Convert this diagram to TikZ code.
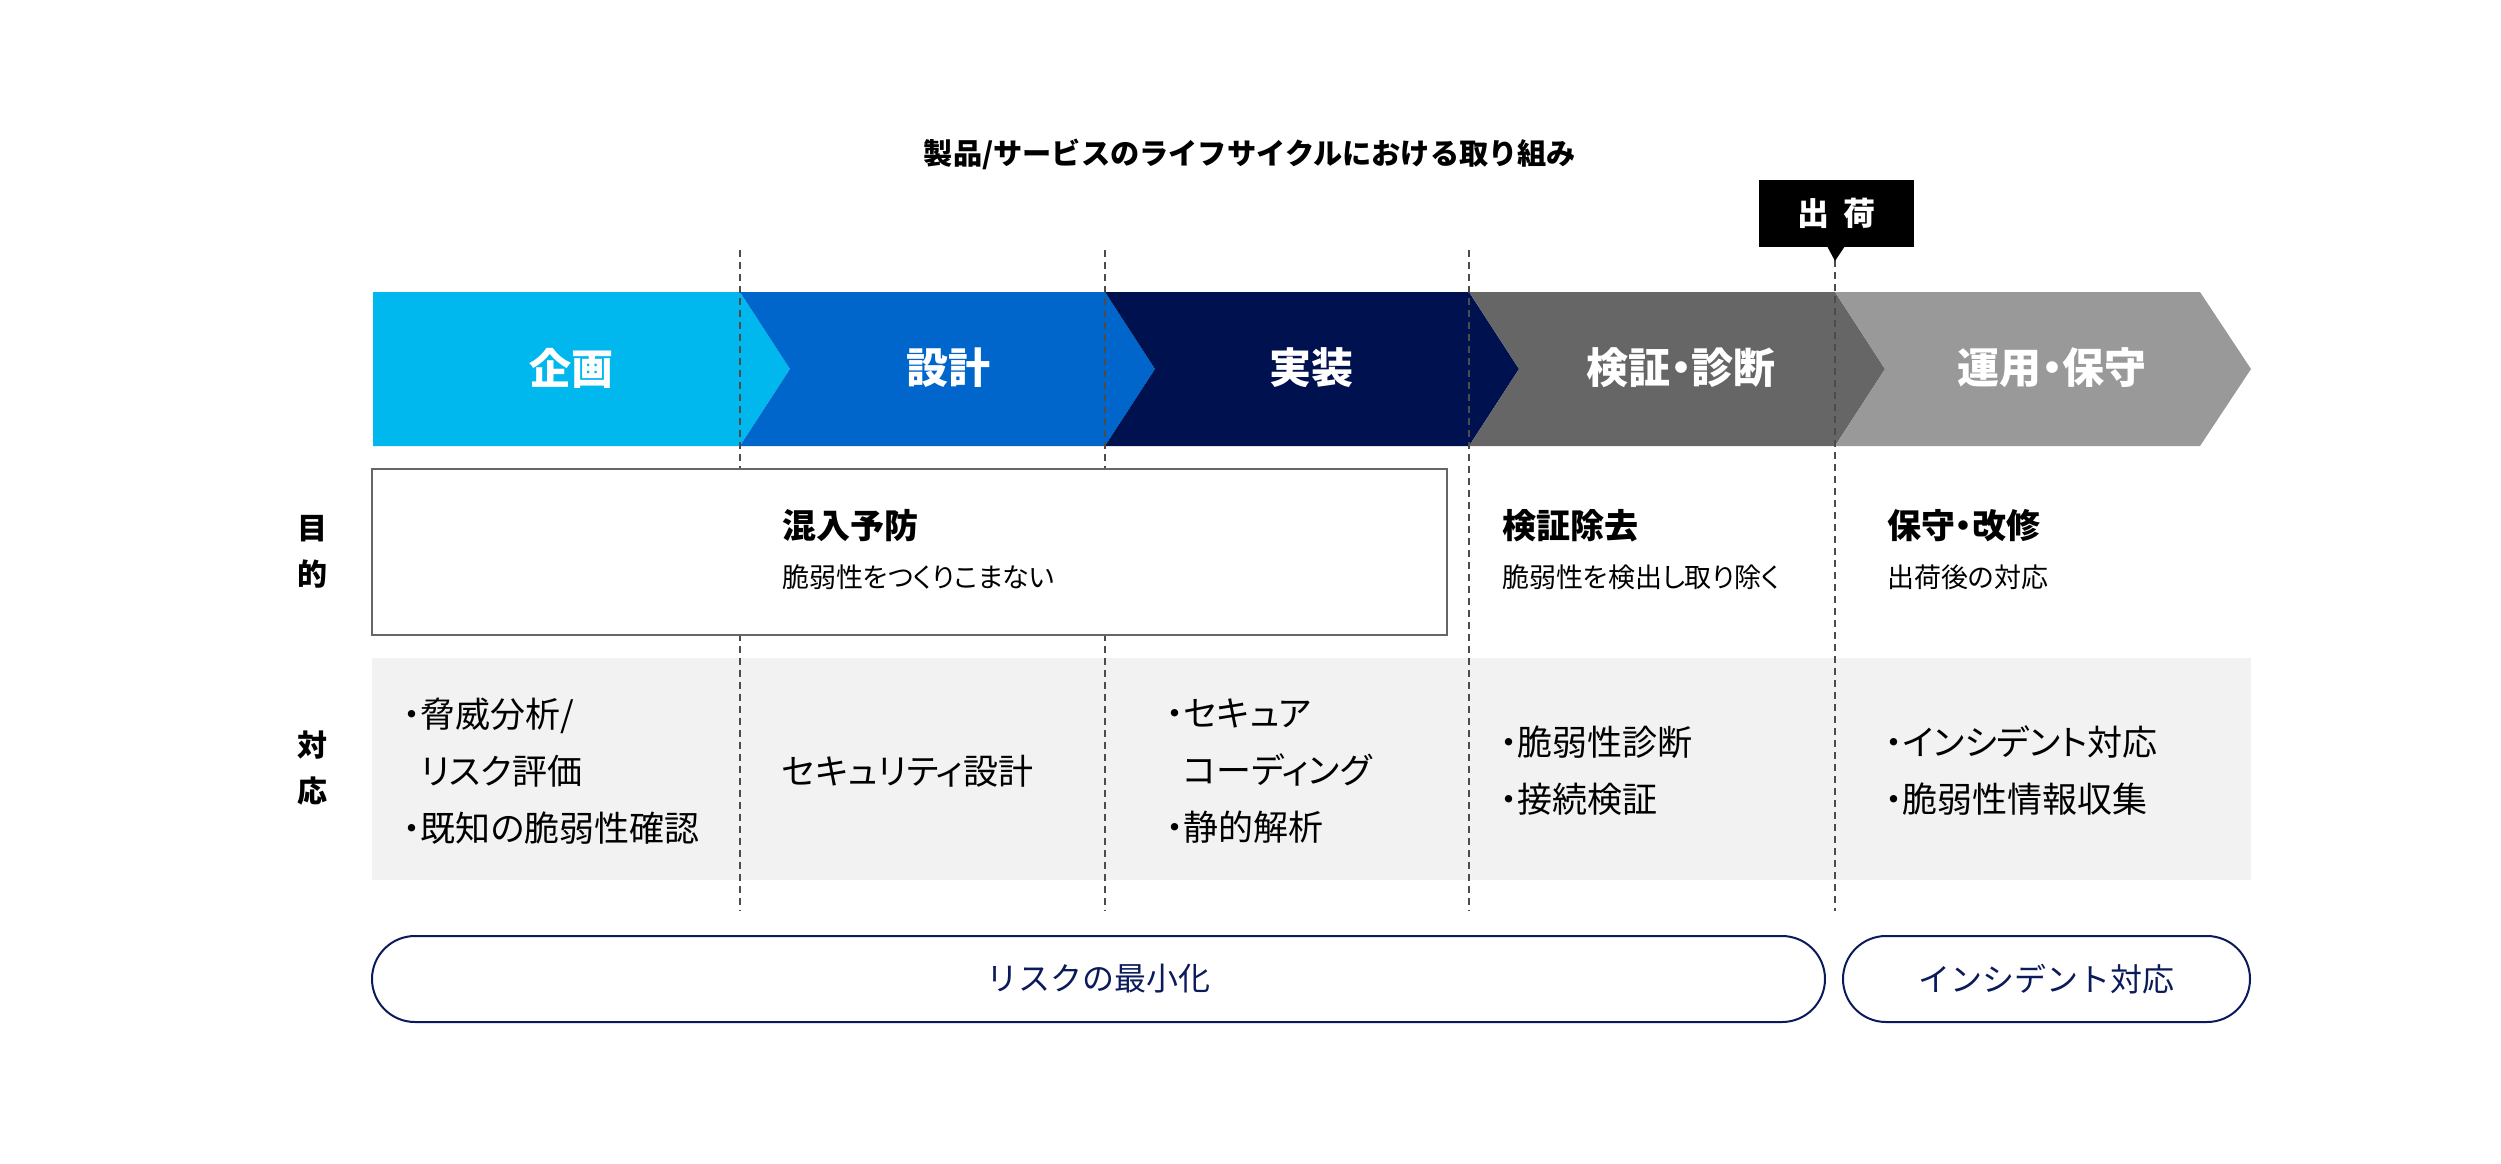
\documentclass[tikz,border=0pt]{standalone}
\usepackage{fontspec}
\setmainfont{Noto Sans CJK JP}[RawFeature=+palt]
\newfontfamily\fullwidthjp{Noto Sans CJK JP}
\usepackage{tikz}
\usetikzlibrary{positioning}

\definecolor{planC}{HTML}{00B8EE}
\definecolor{designC}{HTML}{0066CC}
\definecolor{implC}{HTML}{00114F}
\definecolor{testC}{HTML}{666666}
\definecolor{opsC}{HTML}{999999}
\definecolor{rowC}{HTML}{F2F2F2}
\definecolor{navyC}{HTML}{0B1A5A}

\tikzset{
  phase/.style={text=white, inner sep=0pt, font=\bfseries\fontsize{42}{50}\selectfont},
  sidelbl/.style={align=center, inner sep=0pt, font=\bfseries\fontsize{30}{46}\selectfont},
  rowtxt/.style={anchor=west, align=left, inner sep=0pt, font=\fontsize{35}{57}\selectfont},
  purptitle/.style={anchor=west, inner sep=0pt, font=\bfseries\fontsize{34}{40}\selectfont},
  purpsub/.style={anchor=west, inner sep=0pt, font=\fontsize{27}{32}\selectfont},
  purpbox/.style={draw=testC, line width=1.5pt, fill=white, inner sep=0pt},
  pill/.style={draw=navyC, line width=2pt, rounded corners=43pt, text=navyC,
    minimum height=86pt, inner sep=0pt, font=\fullwidthjp\fontsize{32}{38}\selectfont},
  sepline/.style={draw=black!70, line width=1.5pt, dash pattern=on 7pt off 5pt},
}

\begin{document}
\begin{tikzpicture}[x=1pt, y=-1pt]
\useasboundingbox (0,0) rectangle (2501,1163);

% title
\node[inner sep=0pt, font=\fullwidthjp\bfseries\fontsize{29.2}{35}\selectfont] (title) at (1250,154) {製品/サービスのライフサイクルにおける取り組み};

% phase bar
\fill[planC] (373,292) -- (740,292) -- (790,369) -- (740,446) -- (373,446) -- cycle;
\fill[designC] (740,292) -- (1105,292) -- (1155,369) -- (1105,446) -- (740,446) -- (790,369) -- cycle;
\fill[implC] (1105,292) -- (1469,292) -- (1519,369) -- (1469,446) -- (1105,446) -- (1155,369) -- cycle;
\fill[testC] (1469,292) -- (1835,292) -- (1885,369) -- (1835,446) -- (1469,446) -- (1519,369) -- cycle;
\fill[opsC] (1835,292) -- (2200,292) -- (2251,369) -- (2200,446) -- (1835,446) -- (1885,369) -- cycle;

\node[phase] (plan) at (571,368) {企画};
\node[phase] (design) at (948,368) {設計};
\node[phase] (impl) at (1311,368) {実装};
\node[phase] (test) at (1681,368) {検証・診断};
\node[phase] (ops) at (2052,368) {運用・保守};

% response row background
\fill[rowC] (372,658) rectangle (2251,880);

% phase separators
\foreach \x in {740,1105,1469}
  \draw[sepline] (\x,250) -- (\x,911);
\draw[sepline] (1835,260) -- (1835,911);

% purpose row
\node[purpbox, minimum width=1075pt, minimum height=166pt] (prevBox) at (909.5,552) {};
\node[sidelbl] (purpLbl) at (312,552) {目\\的};
\node[purptitle] (prevT) at (782,526) {混入予防};
\node[purpsub] (prevS) at (782,577) {脆弱性をつくりこまない};
\node[purptitle] (detT) at (1502,526) {検証除去};
\node[purpsub] (detS) at (1502,577) {脆弱性を検出し取り除く};
\node[purptitle] (mntT) at (1887,526) {保守・改修};
\node[purpsub] (mntS) at (1887,577) {出荷後の対応};

% response row
\node[sidelbl] (respLbl) at (312,768) {対\\応};
\node[rowtxt] (resPlan) at (403,771) {・脅威分析/\\\phantom{・}リスク評価\\・既知の脆弱性確認};
\node[rowtxt] (resDesign) at (782,771) {セキュリティ設計};
\node[rowtxt] (resImpl) at (1166,771) {・セキュア\\\phantom{・}コーディング\\・静的解析};
\node[rowtxt] (resTest) at (1500,771) {・脆弱性診断\\・接続検証};
\node[rowtxt] (resOps) at (1885,771) {・インシデント対応\\・脆弱性情報収集};

% shipping marker
\node[fill=black, text=white, minimum width=155pt, minimum height=67pt, inner sep=0pt,
  font=\bfseries\fontsize{32}{38}\selectfont] (ship) at (1836.5,213.5) {出\kern14pt荷};
\fill[black] (1827,246) -- (1845,246) -- (1835,261) -- cycle;

% goals
\node[pill, minimum width=1453pt] (riskMin) at (1098.5,979) {リスクの最小化};
\node[pill, minimum width=407pt] (incident) at (2046.5,979) {インシデント対応};
\end{tikzpicture}
\end{document}
